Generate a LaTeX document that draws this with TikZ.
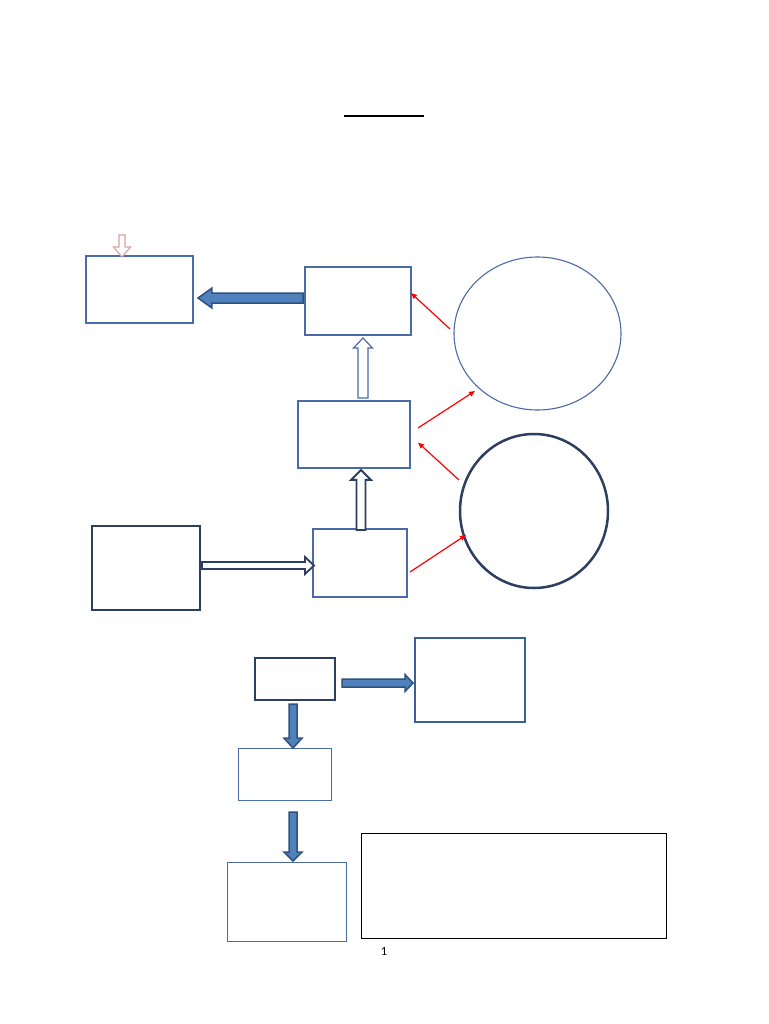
\documentclass[tikz,border=0pt]{standalone}
\usepackage{fontspec}
\setmainfont{Carlito}
\usetikzlibrary{calc,arrows.meta,shapes.geometric}
\definecolor{bthin}{HTML}{4A6AA8}
\definecolor{bmid}{HTML}{3B5E9E}
\definecolor{navy}{HTML}{2C3F60}
\definecolor{bfill}{HTML}{4F81BD}
\definecolor{bline}{HTML}{2F5080}
\definecolor{pinkl}{HTML}{D9A3A3}
% horizontal block arrow: style, from, to, body half, head half, head length
\newcommand\harrow[6]{\draw[#1] let \p1=(#2),\p2=(#3),\p3=($(\p2)!#6pt!(\p1)$) in
  (\x1,{\y1+#4pt}) -- (\x3,{\y1+#4pt}) -- (\x3,{\y1+#5pt}) -- (\x2,\y1) --
  (\x3,{\y1-#5pt}) -- (\x3,{\y1-#4pt}) -- (\x1,{\y1-#4pt}) -- cycle;}
% vertical block arrow
\newcommand\varrow[6]{\draw[#1] let \p1=(#2),\p2=(#3),\p3=($(\p2)!#6pt!(\p1)$) in
  ({\x1+#4pt},\y1) -- ({\x1+#4pt},\y3) -- ({\x1+#5pt},\y3) -- (\x1,\y2) --
  ({\x1-#5pt},\y3) -- ({\x1-#4pt},\y3) -- ({\x1-#4pt},\y1) -- cycle;}
\tikzset{
  box/.style={draw, inner sep=0pt, outer sep=0pt, anchor=north west},
  thinbox/.style={box, draw=bthin, line width=1.1pt},
  navybox/.style={box, draw=navy, line width=2pt},
  ell/.style={ellipse, draw, inner sep=0pt, outer sep=0pt},
  redarr/.style={draw=red, line width=1.2pt, -{Triangle[length=6pt,width=5pt]}},
  bluearr/.style={fill=bfill, draw=bline, line width=1.5pt, line join=miter},
  whitearr/.style={fill=white, draw=bthin, line width=1.2pt, line join=miter},
  whitenavy/.style={fill=white, draw=navy, line width=1.9pt, line join=miter},
  pinkarr/.style={fill=white, draw=pinkl, line width=1.2pt, line join=miter}
}
\begin{document}
\begin{tikzpicture}[x=1pt,y=-1pt]
\useasboundingbox (0,0) rectangle (768,1024);
\fill[white] (0,0) rectangle (768,1024);
% title rule
\coordinate (t1) at (344,116);
\coordinate (t2) at (424,116);
\draw[line width=2pt] (t1) -- (t2);
% boxes
\node[thinbox, minimum width=107pt, minimum height=67pt] (A) at (86,256) {};
\node[thinbox, minimum width=106pt, minimum height=68pt] (B) at (305,267) {};
\node[thinbox, minimum width=112pt, minimum height=67pt] (C) at (298,401) {};
\node[navybox, minimum width=108pt, minimum height=84pt] (D) at (92,526) {};
\node[thinbox, minimum width=94pt, minimum height=68pt] (E) at (313,529) {};
\node[navybox, line width=2.2pt, minimum width=80pt, minimum height=42pt] (F) at (255,658) {};
\node[box, draw=bmid, line width=1.6pt, minimum width=110pt, minimum height=84pt] (G) at (415,638) {};
\node[thinbox, line width=0.9pt, minimum width=93pt, minimum height=52pt] (H) at (238,748) {};
\node[thinbox, line width=0.9pt, minimum width=119pt, minimum height=79pt] (I) at (227,862) {};
\node[box, draw=black, line width=1pt, minimum width=305pt, minimum height=105pt] (J) at (361,833) {};
% ellipses
\node[ell, draw=bthin, line width=1.1pt, minimum width=167pt, minimum height=153pt] (E1) at (537.5,333.5) {};
\node[ell, draw=navy, line width=2.5pt, minimum width=148pt, minimum height=154pt] (E2) at (534,511) {};
% page number
\node[inner sep=0pt, font=\fontsize{12.5}{14}\selectfont] (pg) at (384,951) {1};
% block arrows
\varrow{pinkarr}{$(A.north)+(-17.5,-21)$}{$(A.north)+(-17.5,1)$}{3}{8.5}{10}
\harrow{bluearr}{$(B.west)+(-2,-3)$}{$(A.east)+(5,0)$}{5}{10}{14}
\varrow{whitearr}{$(C.north)+(9,-3)$}{$(B.south)+(5,3)$}{5}{9.5}{10}
\varrow{whitenavy}{$(E.north)+(1,1)$}{$(C.south)+(0,2)$}{4.5}{10}{10}
\harrow{whitenavy, line width=1.8pt}{$(D.east)+(2,-2.5)$}{$(E.west)+(1,0)$}{3.5}{8.5}{9}
\harrow{bluearr}{$(F.east)+(7,4)$}{$(G.west)+(-2,0)$}{4}{8.5}{8}
\varrow{bluearr}{$(F.south)+(-2,4)$}{$(H.north)$}{4}{9}{10}
\varrow{bluearr}{$(H.south)+(8.5,12)$}{$(I.north)+(0,-1)$}{4}{9}{9}
% red arrows
\draw[redarr] ($(E1.west)+(-4,-4.5)$) -- ($(B.east)+(0,-8)$);
\draw[redarr] ($(C.east)+(8,-6.5)$) -- ($(E1.center)+(-62.5,57.5)$);
\draw[redarr] ($(E2.center)+(-75,-31)$) -- ($(C.east)+(8,8)$);
\draw[redarr] ($(E.east)+(3,9)$) -- ($(E2.center)+(-68,24)$);
\end{tikzpicture}
\end{document}
